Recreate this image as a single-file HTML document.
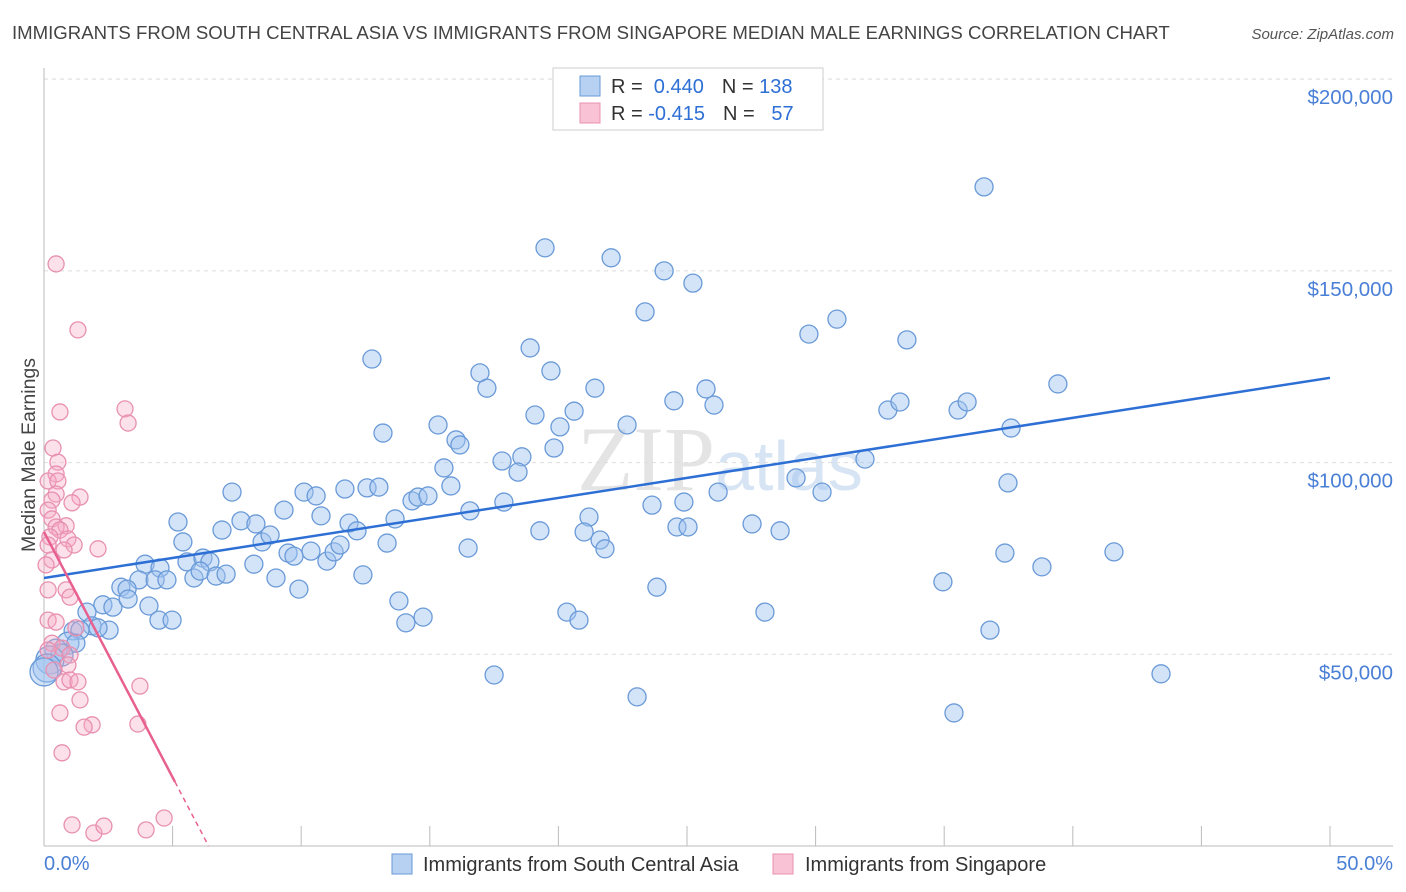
<!DOCTYPE html>
<html><head><meta charset="utf-8"><style>
body{margin:0;background:#fff;font-family:"Liberation Sans",sans-serif;}
svg{display:block}
</style></head><body>
<svg id="chart" width="1406" height="892" xmlns="http://www.w3.org/2000/svg" font-family="Liberation Sans, sans-serif">
<text x="12" y="39" font-size="18.6" fill="#444">IMMIGRANTS FROM SOUTH CENTRAL ASIA VS IMMIGRANTS FROM SINGAPORE MEDIAN MALE EARNINGS CORRELATION CHART</text>
<text x="1394" y="39" font-size="15" fill="#555" font-style="italic" text-anchor="end">Source: ZipAtlas.com</text>
<text x="720" y="490" font-size="92" fill="#e4e4e4" text-anchor="middle" font-family="Liberation Serif, serif">ZIP<tspan fill="#d6e4f4" font-family="Liberation Sans, sans-serif" font-size="70">atlas</tspan></text>
<text transform="translate(35,455) rotate(-90)" font-size="19.5" fill="#444" text-anchor="middle">Median Male Earnings</text>
<g id="grid"></g><g id="marks"></g><g id="trends"></g>
<g>
<rect x="553" y="68" width="270" height="62" fill="#fff" stroke="#ccc"/>
<rect x="580" y="76" width="20" height="20" fill="#b7d1f3" stroke="#6a9ad8"/>
<rect x="580" y="103" width="20" height="20" fill="#f9c3d5" stroke="#e890b0"/>
<text x="611" y="93" font-size="20" fill="#333">R = <tspan fill="#2d6fd4">&#160;0.440</tspan><tspan dx="18">N = </tspan><tspan fill="#2d6fd4">138</tspan></text>
<text x="611" y="120" font-size="20" fill="#333">R = <tspan fill="#2d6fd4">-0.415</tspan><tspan dx="18">N = </tspan><tspan fill="#2d6fd4">&#160;&#160;57</tspan></text>
</g>
<text x="44" y="870" font-size="20" fill="#4a7fd6">0.0%</text>
<text x="1393" y="870" font-size="20" fill="#4a7fd6" text-anchor="end">50.0%</text>
<g>
<rect x="392" y="854" width="20" height="20" fill="#b7d1f3" stroke="#6a9ad8"/>
<text x="423" y="871" font-size="20" fill="#333">Immigrants from South Central Asia</text>
<rect x="773" y="854" width="20" height="20" fill="#f9c3d5" stroke="#e890b0"/>
<text x="805" y="871" font-size="20" fill="#333">Immigrants from Singapore</text>
</g>
</svg>
<script>
const yTicks=[50000,100000,150000,200000];
const yTickLabels=["$50,000","$100,000","$150,000","$200,000"];
const xTicks=[5,10,15,20,25,30,35,40,45,50];
const blueX=[36.55,19.48,22.05,24.11,25.23,23.37,30.83,29.74,33.55,12.75,18.90,19.71,16.95,17.22,21.42,39.42,25.74,24.49,26.05,32.81,33.28,35.54,35.89,20.61,19.09,15.32,20.06,22.67,37.60,13.18,16.02,16.17,19.83,15.55,17.81,18.58,18.43,31.92,29.24,37.48,7.31,10.11,10.58,11.70,12.56,13.02,14.31,14.54,14.93,15.82,17.88,23.64,24.88,26.21,30.25,5.21,7.66,6.92,8.24,9.33,10.77,11.86,12.17,13.65,16.56,19.28,21.19,21.00,24.61,25.04,27.53,28.62,5.40,8.48,8.79,9.49,10.38,13.34,11.00,11.28,11.51,16.49,21.62,21.81,37.36,41.60,3.93,4.51,5.56,6.18,6.45,8.16,9.72,3.69,4.32,4.78,5.83,6.07,6.69,7.08,9.02,12.40,34.95,38.80,2.99,3.23,4.08,9.91,23.83,2.29,2.68,3.27,13.80,20.33,20.80,28.03,1.67,1.87,2.53,4.47,4.98,14.07,14.74,36.78,1.13,1.40,0.93,1.24,0.47,0.70,0.23,0.12,0,17.50,23.06,35.38,43.43,2.10];
const blueY=[171.9,156.0,153.4,150.0,146.8,139.3,137.4,133.5,132.0,127.0,129.9,123.9,123.4,119.4,119.4,120.5,119.2,116.1,115.0,113.7,115.8,113.7,115.8,113.4,112.4,109.8,109.3,109.8,109.0,107.7,105.9,104.6,103.8,98.6,100.4,101.5,97.5,100.9,96.0,94.7,92.3,92.3,91.3,93.1,93.4,93.6,90.0,91.0,91.3,93.9,89.7,88.9,89.7,92.3,92.3,84.5,84.8,82.4,84.0,87.6,86.1,84.2,82.2,85.3,87.4,82.2,85.8,81.9,83.2,83.2,84.0,82.2,79.3,79.3,81.1,76.4,76.9,79.0,74.3,76.7,78.5,77.7,79.8,77.5,76.4,76.7,73.5,72.5,74.1,75.1,74.1,73.5,75.6,69.4,69.4,69.4,69.9,71.7,70.4,70.9,69.9,70.7,68.9,72.8,67.5,67.0,62.6,67.0,67.5,62.9,62.3,64.4,63.9,61.0,58.9,61.0,61.0,57.4,56.3,58.9,58.9,58.2,59.7,56.3,56.1,56.3,52.9,52.9,51.1,49.8,48.5,46.4,45.4,44.6,38.9,34.7,44.9,56.9];
const pinkX=[.47,1.32,.62,3.15,3.27,.35,.54,.47,.16,.54,.47,1.40,1.09,.31,.16,.31,.86,.47,.62,.23,.16,.93,1.17,2.10,.78,.31,.08,.16,.86,1.01,.16,.47,1.24,.31,.70,1.01,.93,.78,1.01,1.32,3.73,.62,1.87,1.56,3.65,.70,1.09,1.94,2.33,3.97,4.67,.16,.39,1.40];
const pinkY=[151.8,134.6,113.2,114.0,110.3,103.8,100.1,97.0,95.2,95.2,91.8,91.0,89.5,90.2,87.6,85.3,83.5,83.2,82.4,80.6,78.5,80.1,78.5,77.5,77.2,74.6,73.3,66.8,66.8,64.9,58.9,58.4,56.9,52.9,51.6,49.8,47.2,42.8,43.3,42.8,41.7,34.7,31.6,31.0,31.8,24.3,5.5,3.4,5.2,4.2,7.3,51.1,45.9,38.1];
const blueTrend=[69.9,122.1];
const pinkTrend=[81.9,-12.8];
const pinkSolidEnd=5.09;

const X=v=>44+v*25.72;
function yk(k){return 846-k/0.2608;}
const NS="http://www.w3.org/2000/svg";
function mk(t,a,p){const e=document.createElementNS(NS,t);for(const k in a)e.setAttribute(k,a[k]);p.appendChild(e);return e;}
const grid=document.getElementById('grid');
yTicks.forEach((t,i)=>{
 const y=yk(t/1000);
 const l=mk('line',{x1:44,x2:1393,y1:y,y2:y,stroke:'#ddd','stroke-dasharray':'4,4'},grid);
 
 
 const tx=mk('text',{x:1393,y:y+25,'font-size':20.5,fill:'#4a7fd6','text-anchor':'end'},grid);
 tx.textContent=yTickLabels[i];
 
 
});
{mk('line',{x1:44,x2:1393,y1:79,y2:79,stroke:'#ddd','stroke-dasharray':'4,4'},grid);}
const ax=mk('line',{x1:44,x2:44,y1:68,y2:846,stroke:'#bbb'},grid);


const bx=mk('line',{x1:44,x2:1393,y1:846,y2:846,stroke:'#bbb'},grid);


xTicks.forEach(t=>{const l=mk('line',{x1:X(t),x2:X(t),y1:826,y2:846,stroke:'#bbb'},grid);
 
 });
const marks=document.getElementById('marks');
blueX.forEach((x,i)=>{const r=x<1?(x<0.3?14:11):9;
 const c=mk('circle',{cx:X(x),cy:yk(blueY[i]),r:r,fill:'rgba(160,195,240,0.45)',stroke:'#6a9ad8','stroke-width':1.3},marks);
 
 });
pinkX.forEach((x,i)=>{
 const c=mk('circle',{cx:X(x),cy:yk(pinkY[i]),r:8,fill:'rgba(245,170,195,0.35)',stroke:'#e890b0','stroke-width':1.3},marks);
 
 });
const tr=document.getElementById('trends');
const bl=mk('line',{x1:X(0),y1:yk(blueTrend[0]),x2:X(50),y2:yk(blueTrend[1]),stroke:'#2d6fd4','stroke-width':2.5},tr);


const pz=-pinkTrend[0]/pinkTrend[1];
const pl=mk('line',{x1:X(0),y1:yk(pinkTrend[0]),x2:X(pinkSolidEnd),y2:yk(pinkTrend[0]+pinkTrend[1]*pinkSolidEnd),stroke:'#e8608f','stroke-width':2.5},tr);


const pd=mk('line',{x1:X(pinkSolidEnd),y1:yk(pinkTrend[0]+pinkTrend[1]*pinkSolidEnd),x2:X(pz),y2:yk(0),stroke:'#e8608f','stroke-width':1.5,'stroke-dasharray':'5,4'},tr);


</script>
</body></html>
